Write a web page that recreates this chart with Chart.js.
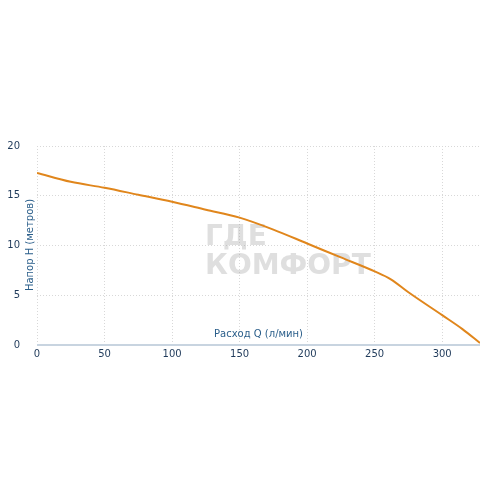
<!DOCTYPE html>
<html><head><meta charset="utf-8">
<script src="https://cdn.jsdelivr.net/npm/chart.js@4"></script>
<style>body{margin:0;background:#fff}#wrap{width:496px;height:496px;position:relative}</style>
</head><body><div id="wrap"><canvas id="c"></canvas></div>
<script>
const flow = [0, 25, 50, 75, 100, 125, 150, 175, 200, 225, 250, 262, 275, 300, 315, 328];
const head = [17.3, 16.4, 15.8, 15.1, 14.4, 13.6, 12.8, 11.6, 10.2, 8.8, 7.4, 6.6, 5.3, 3.0, 1.6, 0.2];
const xTicks = [0, 50, 100, 150, 200, 250, 300];

const watermark = {
  id: 'watermark',
  beforeDatasetsDraw(chart) {
    const ctx = chart.ctx;
    ctx.save();
    ctx.fillStyle = 'rgba(150,150,150,0.3)';
    ctx.font = 'bold 28px "DejaVu Sans"';
    ctx.fillText('ГДЕ', 205, 245);
    ctx.fillText('КОМФОРТ', 205, 274);
    ctx.restore();
  }
};

new Chart(document.getElementById('c'), {
  type: 'line',
  data: {
    datasets: [{
      data: flow.map((x, i) => ({ x: x, y: head[i] })),
      borderColor: '#e0861c',
      borderWidth: 2,
      pointRadius: 0,
      cubicInterpolationMode: 'monotone',
      fill: false
    }]
  },
  options: {
    responsive: true,
    maintainAspectRatio: false,
    animation: false,
    layout: { padding: { left: 0, right: 16, top: 146, bottom: 133 } },
    plugins: { legend: { display: false }, tooltip: { enabled: false } },
    scales: {
      x: {
        type: 'linear', min: 0, max: 328,
        afterBuildTicks: s => { s.ticks = xTicks.map(v => ({ value: v })); },
        ticks: { color: '#1f3a5a', font: { family: 'DejaVu Sans', size: 10 } },
        grid: { color: '#d8d8d8', drawTicks: false },
        border: { display: false, dash: [1, 2] }
      },
      y: {
        min: 0, max: 20,
        afterFit: s => { s.width = 37; },
        ticks: { stepSize: 5, color: '#1f3a5a', padding: 17, font: { family: 'DejaVu Sans', size: 10 } },
        grid: { color: '#d8d8d8', drawTicks: false },
        border: { display: false, dash: [1, 2] }
      }
    }
  },
  plugins: [watermark, {
    id: 'titles',
    afterDraw(chart) {
      const ctx = chart.ctx, a = chart.chartArea;
      ctx.save();
      ctx.strokeStyle = '#c8d4e0';
      ctx.lineWidth = 2;
      ctx.beginPath();
      ctx.moveTo(a.left, a.bottom);
      ctx.lineTo(a.right, a.bottom);
      ctx.stroke();
      ctx.fillStyle = '#2a5e8a';
      ctx.font = '10px "DejaVu Sans"';
      ctx.textAlign = 'left';
      ctx.fillText('Расход Q (л/мин)', 214, 337);
      ctx.translate(33, 245);
      ctx.rotate(-Math.PI / 2);
      ctx.textAlign = 'center';
      ctx.fillText('Напор H (метров)', 0, 0);
      ctx.restore();
    }
  }]
});
</script></body></html>
